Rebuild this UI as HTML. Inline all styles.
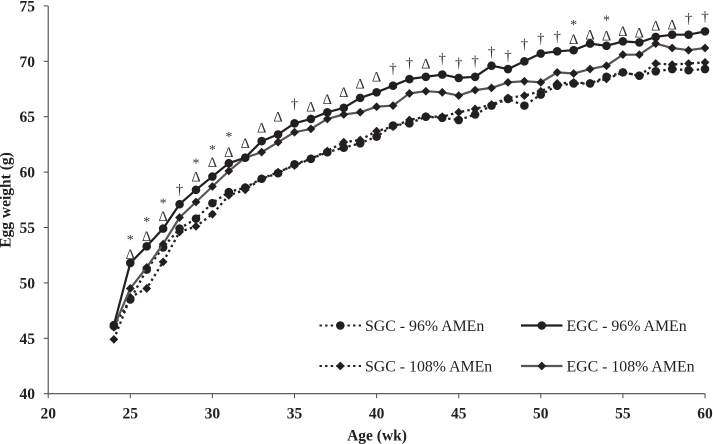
<!DOCTYPE html>
<html>
<head>
<meta charset="utf-8">
<title>Egg weight by age</title>
<style>
html,body{margin:0;padding:0;background:#fff;width:713px;height:444px;overflow:hidden}
svg{display:block}
text{font-family:"Liberation Serif",serif;fill:#231f20}
.tick{font-size:15.5px;font-weight:bold}
.title{font-size:15.5px;font-weight:bold}
.leg{font-size:15.85px}
</style>
</head>
<body>
<svg id="chart" xmlns="http://www.w3.org/2000/svg" width="713" height="444" viewBox="0 0 713 444"></svg>
<script>
const weeks = [24,25,26,27,28,29,30,31,32,33,34,35,36,37,38,39,40,41,42,43,44,45,46,47,48,49,50,51,52,53,54,55,56,57,58,59,60];
const egc96 = [46.2,51.8,53.3,54.9,57.1,58.4,59.6,60.8,61.3,62.8,63.4,64.4,64.8,65.4,65.8,66.7,67.2,67.8,68.4,68.6,68.8,68.5,68.6,69.6,69.3,70.0,70.7,70.9,71.0,71.6,71.4,71.8,71.7,72.2,72.4,72.4,72.7];
const egc108 = [46.0,49.5,51.4,53.5,55.9,57.3,58.7,60.1,61.3,61.8,62.7,63.6,63.9,64.8,65.2,65.4,65.9,66.0,67.1,67.3,67.2,66.9,67.4,67.6,68.1,68.2,68.1,69.0,68.9,69.3,69.6,70.6,70.6,71.6,71.2,71.0,71.2];
const sgc96 = [46.1,48.5,51.2,53.2,54.9,55.8,57.2,58.2,58.6,59.4,59.9,60.7,61.2,61.8,62.2,62.6,63.2,64.2,64.4,65.0,64.9,64.7,65.2,66.0,66.6,66.0,67.0,67.8,68.0,68.0,68.6,69.0,68.7,69.1,69.3,69.2,69.3];
const sgc108 = [44.9,48.7,49.5,51.9,54.6,55.1,56.2,57.9,58.4,59.4,60.0,60.6,61.2,61.9,62.7,62.9,63.7,64.1,64.7,65.0,65.0,65.4,65.7,66.1,66.7,66.9,67.3,68.0,68.1,68.0,68.4,69.0,68.7,69.8,69.7,69.8,69.9];
const sigWeeks = [25,26,27,28,29,30,31,32,33,34,35,36,37,38,39,40,41,42,43,44,45,46,47,48,49,50,51,52,53,54,55,56,57,58,59,60];
const sigLabels = ["Δ","Δ","Δ","†","Δ","Δ","Δ","Δ","Δ","Δ","†","Δ","Δ","Δ","Δ","Δ","†","†","Δ","†","†","†","†","†","†","†","†","Δ","Δ","Δ","Δ","Δ","Δ","Δ","†","†"];
const sigValues = [52.6,54.2,56.0,58.4,59.6,60.9,61.8,62.6,64.0,65.0,66.1,65.9,66.6,67.2,68.0,68.6,69.3,69.8,69.8,70.2,69.8,70.0,70.8,70.5,71.5,72.0,72.2,72.0,72.4,72.3,72.7,72.6,73.2,73.3,73.8,74.0];
const starWeeks = [25,26,27,29,30,31,52,54];
const starValues = [54.1,55.7,57.4,61.0,62.2,63.4,73.5,73.9];
const xTicks = [20,25,30,35,40,45,50,55,60];
const yTicks = [40,45,50,55,60,65,70,75];

const svg = document.getElementById('chart');
const NS = 'http://www.w3.org/2000/svg';
function X(w){ return 48.2 + (w - 20) * 16.42; }
function Y(v){ return 393.7 - (v - 40) * 11.08; }
function mk(tag, attrs, parent){
  const el = document.createElementNS(NS, tag);
  for (const k in attrs) el.setAttribute(k, attrs[k]);
  (parent || svg).appendChild(el);
  return el;
}
function pathFrom(xs, vs){
  return xs.map((w, i) => (i ? 'L' : 'M') + X(w).toFixed(1) + ' ' + Y(vs[i]).toFixed(1)).join(' ');
}
function diamond(cx, cy, r, fill, parent){
  return mk('polygon', {points: `${cx-r},${cy} ${cx},${cy-r} ${cx+r},${cy} ${cx},${cy+r}`, fill: fill}, parent);
}

// axes
const axisColor = '#4a4a4a';
const xAxis = mk('line', {x1: X(20), x2: X(60), y1: Y(40), y2: Y(40), stroke: axisColor, 'stroke-width': 1.1});


const yAxis = mk('line', {x1: X(20), x2: X(20), y1: Y(40), y2: Y(75), stroke: axisColor, 'stroke-width': 1.1});



xTicks.forEach(t => {
  const m = mk('line', {x1: X(t), x2: X(t), y1: Y(40), y2: Y(40) + 4.5, stroke: axisColor, 'stroke-width': 1});
  
  
  const l = mk('text', {x: X(t), y: 418.5, 'text-anchor': 'middle', class: 'tick'});
  l.textContent = t;
  
  
});
yTicks.forEach(t => {
  const m = mk('line', {x1: X(20) - 4.5, x2: X(20), y1: Y(t), y2: Y(t), stroke: axisColor, 'stroke-width': 1});
  
  
  const l = mk('text', {x: 35, y: Y(t) + 5.5, 'text-anchor': 'end', class: 'tick'});
  l.textContent = t;
  
  
});

const xTitle = mk('text', {x: 377, y: 440.5, 'text-anchor': 'middle', class: 'title'});
xTitle.textContent = 'Age (wk)';


const yTitle = mk('text', {x: 0, y: 0, 'text-anchor': 'middle', class: 'title', transform: 'translate(10.5,200) rotate(-90)'});
yTitle.textContent = 'Egg weight (g)';



// series
const dark = '#231f20';
const gray = '#565656';
const dots = '2.4 3.2';
function drawSeries(vals, color, dash, shape, name){
  const g = mk('g', {});
  
  
  const attrs = {d: pathFrom(weeks, vals), fill: 'none', stroke: color, 'stroke-width': dash ? 2.3 : 2.2, 'stroke-linejoin': 'round'};
  if (dash) attrs['stroke-dasharray'] = dash;
  const line = mk('path', attrs, g);
  
  
  weeks.forEach((w, i) => {
    const p = shape === 'circle'
      ? mk('circle', {cx: X(w), cy: Y(vals[i]), r: 4.3, fill: dark}, g)
      : diamond(X(w), Y(vals[i]), 4.4, dark, g);
    
    
  });
}
drawSeries(sgc96, dark, dots, 'circle', 'series-sgc-96');
drawSeries(sgc108, dark, dots, 'diamond', 'series-sgc-108');
drawSeries(egc108, gray, null, 'diamond', 'series-egc-108');
drawSeries(egc96, dark, null, 'circle', 'series-egc-96');

// significance marks
sigWeeks.forEach((w, i) => {
  const isTri = sigLabels[i] === 'Δ';
  const t = mk('text', {x: X(w), y: Y(sigValues[i]) + (isTri ? 4.8 : 4), 'text-anchor': 'middle', 'font-size': isTri ? 14.5 : 15, style: 'fill:#333'});
  t.textContent = sigLabels[i];
  
  
});
starWeeks.forEach((w, i) => {
  const t = mk('text', {x: X(w), y: Y(starValues[i]) + 6.5, 'text-anchor': 'middle', 'font-size': 14, style: 'fill:#333'});
  t.textContent = '*';
  
  
});

// legend
function legend(x0, y0, label, color, dash, shape, name){
  const g = mk('g', {});
  
  
  const attrs = {x1: x0, x2: x0 + 41.5, y1: y0, y2: y0, stroke: color, 'stroke-width': dash ? 2 : 2.2};
  if (dash) attrs['stroke-dasharray'] = dash;
  const ln = mk('line', attrs, g);
  
  
  const cx = x0 + 20.8;
  const sym = shape === 'circle' ? mk('circle', {cx: cx, cy: y0, r: 4.3, fill: dark}, g) : diamond(cx, y0, 4.4, dark, g);
  
  
  const t = mk('text', {x: x0 + 45.5, y: y0 + 5.5, class: 'leg'}, g);
  t.textContent = label;
  
  
}
legend(319.5, 325.5, 'SGC - 96% AMEn', dark, dots, 'circle', 'legend-sgc-96');
legend(521, 325.5, 'EGC - 96% AMEn', dark, null, 'circle', 'legend-egc-96');
legend(319.5, 366, 'SGC - 108% AMEn', dark, dots, 'diamond', 'legend-sgc-108');
legend(521, 366, 'EGC - 108% AMEn', gray, null, 'diamond', 'legend-egc-108');
</script>
</body>
</html>
